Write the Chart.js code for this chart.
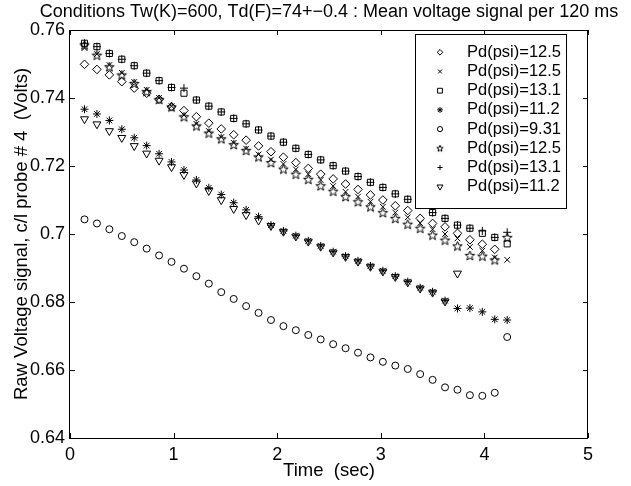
<!DOCTYPE html>
<html>
<head>
<meta charset="utf-8">
<script src="https://cdn.jsdelivr.net/npm/chart.js@4.4.0/dist/chart.umd.min.js"></script>
<style>
  html, body { margin: 0; padding: 0; background: #fff; }
  canvas { display: block; }
</style>
</head>
<body>
<canvas id="myChart" width="631" height="486"></canvas>
<script>
// sample times (sec), one mean value every 120 ms
const times = [0.14, 0.26, 0.38, 0.50, 0.62, 0.74, 0.86, 0.98, 1.10, 1.22, 1.34, 1.46,
  1.58, 1.70, 1.82, 1.94, 2.06, 2.18, 2.30, 2.42, 2.54, 2.66, 2.78, 2.90, 3.02, 3.14,
  3.26, 3.38, 3.50, 3.62, 3.74, 3.86, 3.98, 4.10, 4.22];

const pdLabels = ['Pd(psi)=12.5', 'Pd(psi)=12.5', 'Pd(psi)=13.1', 'Pd(psi)=11.2',
  'Pd(psi)=9.31', 'Pd(psi)=12.5', 'Pd(psi)=13.1', 'Pd(psi)=11.2'];

const diamond125 = [0.7499, 0.7484, 0.7468, 0.7448, 0.7429, 0.7414, 0.7396, 0.7374, 0.7363, 0.7345,
  0.7326, 0.7309, 0.7292, 0.7276, 0.7259, 0.7242, 0.7226, 0.7210, 0.7193, 0.7176, 0.7162, 0.7147,
  0.7131, 0.7115, 0.7100, 0.7083, 0.7069, 0.7046, 0.7031, 0.7021, 0.7002, 0.6983, 0.6970, 0.6955];
const cross125 = [0.7547, 0.7529, 0.7497, 0.7474, 0.7447, 0.7424, 0.7400, 0.7376, 0.7350, 0.7324,
  0.7303, 0.7285, 0.7268, 0.7251, 0.7234, 0.7219, 0.7206, 0.7190, 0.7176, 0.7159, 0.7141, 0.7124,
  0.7110, 0.7095, 0.7080, 0.7063, 0.7049, 0.7032, 0.7014, 0.7000, 0.6987, 0.6962, 0.6951, 0.6931, 0.6924];
const square131 = [0.7561, 0.7551, 0.7531, 0.7514, 0.7495, 0.7473, 0.7451, 0.7431, 0.7414, 0.7394,
  0.7376, 0.7359, 0.7340, 0.7324, 0.7306, 0.7288, 0.7270, 0.7252, 0.7234, 0.7218, 0.7201, 0.7185,
  0.7169, 0.7152, 0.7137, 0.7118, 0.7102, 0.7085, 0.7063, 0.7046, 0.7026, 0.7017, 0.7002, 0.6990, 0.6971];
const asterisk112 = [0.7367, 0.7353, 0.7334, 0.7308, 0.7283, 0.7260, 0.7236, 0.7212, 0.7188, 0.7159,
  0.7136, 0.7116, 0.7092, 0.7071, 0.7051, 0.7026, 0.7009, 0.6995, 0.6980, 0.6965, 0.6948, 0.6935,
  0.6921, 0.6906, 0.6892, 0.6876, 0.6860, 0.6842, 0.6830, 0.6804, 0.6781, 0.6782, 0.6771, 0.6749, 0.6747];
const circle931 = [0.7043, 0.7031, 0.7014, 0.6994, 0.6976, 0.6957, 0.6937, 0.6918, 0.6898, 0.6876,
  0.6854, 0.6829, 0.6809, 0.6788, 0.6768, 0.6747, 0.6729, 0.6717, 0.6703, 0.6690, 0.6676, 0.6664,
  0.6651, 0.6637, 0.6624, 0.6613, 0.6603, 0.6588, 0.6571, 0.6549, 0.6542, 0.6526, 0.6524, 0.6533, 0.6697];
const star125 = [0.7556, 0.7526, 0.7492, 0.7468, 0.7443, 0.7419, 0.7396, 0.7374, 0.7345, 0.7318,
  0.7297, 0.7280, 0.7263, 0.7246, 0.7227, 0.7210, 0.7191, 0.7176, 0.7161, 0.7142, 0.7126, 0.7110,
  0.7095, 0.7080, 0.7063, 0.7046, 0.7029, 0.7017, 0.6997, 0.6982, 0.6965, 0.6937, 0.6935, 0.6924, 0.6990];
const plus131 = [0.7561, 0.7551, 0.7531, 0.7514, 0.7495, 0.7473, 0.7451, 0.7431, 0.7429, 0.7394,
  0.7376, 0.7359, 0.7340, 0.7324, 0.7306, 0.7288, 0.7270, 0.7252, 0.7234, 0.7218, 0.7201, 0.7185,
  0.7169, 0.7152, 0.7137, 0.7118, 0.7102, 0.7085, 0.7063, 0.7046, 0.7026, 0.7017, 0.7009, 0.6990, 0.7005];
const triangle112 = [0.7338, 0.7323, 0.7303, 0.7283, 0.7259, 0.7237, 0.7216, 0.7197, 0.7174, 0.7149,
  0.7127, 0.7100, 0.7074, 0.7056, 0.7040, 0.7024, 0.7007, 0.6993, 0.6978, 0.6963, 0.6946, 0.6933,
  0.6919, 0.6904, 0.6890, 0.6874, 0.6858, 0.6840, 0.6828, 0.6802, 0.6884];

const xTicks = [0, 1, 2, 3, 4, 5];
const yTicks = [0.64, 0.66, 0.68, 0.70, 0.72, 0.74, 0.76];

const FONT = "'Liberation Sans', Arial, Helvetica, sans-serif";

// matlab-like pentagram, chart.js has none
function pentagram(r) {
  const c = document.createElement('canvas');
  const s = Math.ceil(r * 2 + 3);
  c.width = s;
  c.height = s;
  const g = c.getContext('2d');
  g.translate(s / 2, s / 2 + r * 0.1);
  g.beginPath();
  for (let k = 0; k < 10; k++) {
    const rr = k % 2 ? r * 0.42 : r;
    const a = -Math.PI / 2 + k * Math.PI / 5;
    g.lineTo(rr * Math.cos(a), rr * Math.sin(a));
  }
  g.closePath();
  g.strokeStyle = '#000';
  g.lineWidth = 1;
  g.stroke();
  return c;
}

const markers = [
  { style: 'rectRot', r: 4.3, lr: 2.8 },
  { style: 'crossRot', r: 4, lr: 2.8 },
  { style: 'rect', r: 4.3, lr: 3.4 },
  { style: 'star', r: 4, lr: 3 },
  { style: 'circle', r: 3.5, lr: 2.6 },
  { style: pentagram(5), r: 5, lr: 3, img: pentagram(3.4) },
  { style: 'cross', r: 4, lr: 2.6 },
  { style: 'triangle', r: 4.6, lr: 3.4, rot: 180 }
];
const series = [diamond125, cross125, square131, asterisk112, circle931, star125, plus131, triangle112];

const datasets = series.map((vals, k) => ({
  label: pdLabels[k],
  data: vals.map((v, i) => ({ x: times[i], y: v })),
  pointStyle: markers[k].style,
  pointRadius: markers[k].r,
  pointRotation: markers[k].rot || 0,
  pointBorderColor: '#000',
  pointBackgroundColor: 'rgba(0,0,0,0)',
  pointBorderWidth: 1,
  showLine: false
}));

// legend box drawn inside the axes, like matlab
const boxLegend = {
  id: 'boxLegend',
  afterDatasetsDraw(chart) {
    const c = chart.ctx;
    c.save();
    c.font = '16.5px ' + FONT;
    let w = 0;
    pdLabels.forEach(t => { w = Math.max(w, c.measureText(t).width); });
    const left = 415, top = 34, textX = 467, rowH = 19.2, y0 = 52.3;
    const right = textX + w + 5, bottom = 208;
    c.fillStyle = '#fff';
    c.fillRect(left, top, right - left, bottom - top);
    c.strokeStyle = '#000';
    c.lineWidth = 1;
    c.strokeRect(left + 0.5, top + 0.5, right - left, bottom - top);
    pdLabels.forEach((t, k) => {
      const y = y0 + rowH * k;
      c.fillStyle = 'rgba(0,0,0,0)';
      c.strokeStyle = '#000';
      Chart.helpers.drawPoint(c, {
        pointStyle: markers[k].img || markers[k].style,
        radius: markers[k].lr,
        rotation: markers[k].rot || 0,
        borderWidth: 1
      }, 440, y);
      c.fillStyle = '#000';
      c.textBaseline = 'middle';
      c.textAlign = 'left';
      c.fillText(t, textX, y);
    });
    c.restore();
  }
};

// box around the axes with inward ticks on every side, plus the title
const frame = {
  id: 'frame',
  afterDraw(chart) {
    const { ctx: c, chartArea: a, scales } = chart;
    c.save();
    c.strokeStyle = '#000';
    c.lineWidth = 1;
    c.strokeRect(Math.round(a.left) - 0.5, Math.round(a.top) + 0.5,
      Math.round(a.right - a.left), Math.round(a.bottom - a.top));
    c.beginPath();
    xTicks.forEach(v => {
      const px = Math.round(scales.x.getPixelForValue(v)) + 0.5;
      c.moveTo(px, a.bottom); c.lineTo(px, a.bottom - 5);
      c.moveTo(px, a.top); c.lineTo(px, a.top + 5);
    });
    yTicks.forEach(v => {
      const py = Math.round(scales.y.getPixelForValue(v)) + 0.5;
      c.moveTo(a.left, py); c.lineTo(a.left + 5, py);
      c.moveTo(a.right, py); c.lineTo(a.right - 5, py);
    });
    c.stroke();
    c.fillStyle = '#000';
    c.font = '18px ' + FONT;
    c.textAlign = 'center';
    c.textBaseline = 'middle';
    c.fillText('Conditions Tw(K)=600, Td(F)=74+\u22120.4 : Mean voltage signal per 120 ms',
      (a.left + a.right) / 2, 12);
    c.restore();
  }
};

const ctx = document.getElementById('myChart');

new Chart(ctx, {
  type: 'scatter',
  data: { datasets: datasets },
  options: {
    responsive: false,
    animation: false,
    devicePixelRatio: 1,
    layout: { padding: { top: 30, right: 43, bottom: 0, left: 0 } },
    plugins: {
      legend: { display: false },
      tooltip: { enabled: false }
    },
    scales: {
      x: {
        type: 'linear',
        min: 0,
        max: 5,
        afterBuildTicks: s => { s.ticks = xTicks.map(v => ({ value: v })); },
        ticks: { color: '#000', font: { family: FONT, size: 18 }, padding: 6 },
        grid: { display: false, drawTicks: false },
        border: { display: false },
        title: {
          display: true, text: 'Time  (sec)', color: '#000',
          font: { family: FONT, size: 18.5 }, padding: { top: 0, bottom: 4 }
        },
        afterFit: s => { s.height = 48; }
      },
      y: {
        min: 0.64,
        max: 0.76,
        afterBuildTicks: s => { s.ticks = yTicks.map(v => ({ value: v })); },
        ticks: {
          color: '#000', font: { family: FONT, size: 18 }, padding: 5,
          callback: v => String(+v.toFixed(2))
        },
        grid: { display: false, drawTicks: false },
        border: { display: false },
        title: {
          display: true, text: 'Raw Voltage signal, c/l probe # 4  (Volts)', color: '#000',
          font: { family: FONT, size: 18.5 }, padding: { top: 11, bottom: 0 }
        },
        afterFit: s => { s.width = 70; }
      }
    }
  },
  plugins: [boxLegend, frame]
});
</script>
</body>
</html>
